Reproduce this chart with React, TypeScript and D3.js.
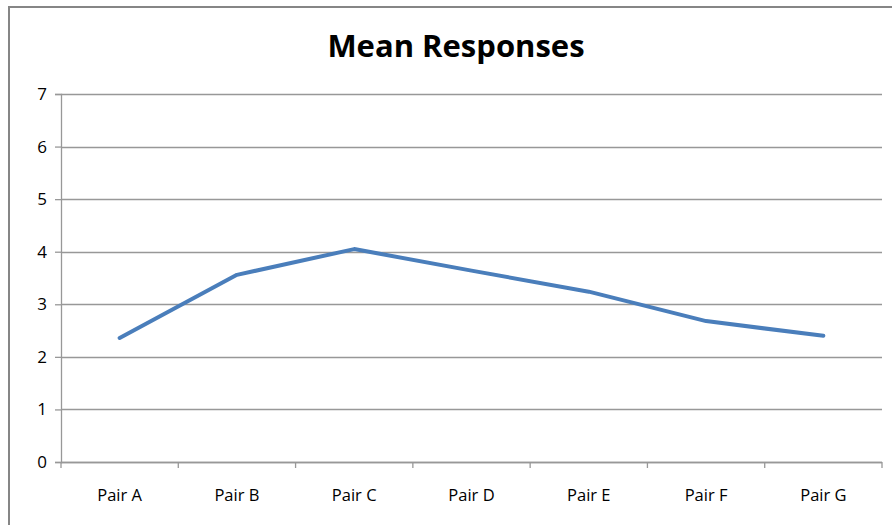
import React, { useEffect, useRef } from 'react';
import * as d3 from 'd3';

const categories = ['Pair A', 'Pair B', 'Pair C', 'Pair D', 'Pair E', 'Pair F', 'Pair G'];
const meanValues = [2.36, 3.56, 4.05, 3.64, 3.24, 2.68, 2.4];
const yTicks = [0, 1, 2, 3, 4, 5, 6, 7];

const App: React.FC = () => {
  const svgRef = useRef<SVGSVGElement>(null);

  useEffect(() => {
    if (!svgRef.current) return;
    const svg = d3.select(svgRef.current);
    svg.selectAll('*').remove();

    const width = 892;
    const height = 525;
    const margin = { top: 94, right: 10, bottom: 63, left: 61 };
    const innerW = width - margin.left - margin.right;
    const innerH = height - margin.top - margin.bottom;
    const font = "'Open Sans', 'Liberation Sans', sans-serif";

    // chart frame (right and bottom edges fall outside the picture)
    svg.append('rect')
      .attr('x', 9)
      .attr('y', 7)
      .attr('width', 900)
      .attr('height', 540)
      .attr('fill', '#fff')
      .attr('stroke', '#868686')
      .attr('stroke-width', 2);

    svg.append('text')
      .attr('x', 456)
      .attr('y', 57)
      .attr('text-anchor', 'middle')
      .style('font-family', font)
      .style('font-size', '31px')
      .style('font-weight', 'bold')
      .style('fill', '#000')
      .text('Mean Responses');

    const g = svg.append('g')
      .attr('transform', `translate(${margin.left},${margin.top})`);

    const x = d3.scaleBand<string>().domain(categories).range([0, innerW]).padding(0);
    const y = d3.scaleLinear().domain([0, 7]).range([innerH, 0]);

    // gridlines
    g.append('g')
      .selectAll('line')
      .data(yTicks)
      .enter()
      .append('line')
      .attr('x1', 0)
      .attr('x2', innerW)
      .attr('y1', d => Math.round(y(d)) + 0.5)
      .attr('y2', d => Math.round(y(d)) + 0.5)
      .attr('stroke', '#989898')
      .attr('stroke-width', 1.3);

    // y axis
    const yAxis = g.append('g')
      .call(d3.axisLeft(y).tickValues(yTicks).tickSize(6).tickPadding(8).tickFormat(d3.format('d')));
    yAxis.select('.domain').attr('stroke', '#989898').attr('stroke-width', 1.3);
    yAxis.selectAll('.tick line').attr('stroke', '#989898').attr('stroke-width', 1.3);
    yAxis.selectAll('.tick text')
      .style('font-family', font)
      .style('font-size', '17px')
      .style('fill', '#000');

    // x axis: ticks between categories
    const xAxis = g.append('g').attr('transform', `translate(0,${innerH})`);
    xAxis.append('line')
      .attr('x1', 0)
      .attr('x2', innerW)
      .attr('y1', 0.5)
      .attr('y2', 0.5)
      .attr('stroke', '#989898')
      .attr('stroke-width', 1.3);
    const boundaries = categories.map(c => x(c) as number).concat([innerW]);
    xAxis.selectAll('.xtick')
      .data(boundaries)
      .enter()
      .append('line')
      .attr('x1', d => d)
      .attr('x2', d => d)
      .attr('y1', 0)
      .attr('y2', 6)
      .attr('stroke', '#989898')
      .attr('stroke-width', 1.3);
    xAxis.selectAll('.xlabel')
      .data(categories)
      .enter()
      .append('text')
      .attr('x', d => (x(d) as number) + x.bandwidth() / 2)
      .attr('y', 39)
      .attr('text-anchor', 'middle')
      .style('font-family', font)
      .style('font-size', '16.5px')
      .style('fill', '#000')
      .text(d => d);

    const line = d3.line<number>()
      .x((_, i) => (x(categories[i]) as number) + x.bandwidth() / 2)
      .y(d => y(d));

    g.append('path')
      .datum(meanValues)
      .attr('d', line)
      .attr('fill', 'none')
      .attr('stroke', '#4a7ebb')
      .attr('stroke-width', 4)
      .attr('stroke-linecap', 'round')
      .attr('stroke-linejoin', 'round');
  }, []);

  return (
    <svg
      ref={svgRef}
      width={892}
      height={525}
      style={{ position: 'absolute', left: 0, top: 0, background: '#fff' }}
    />
  );
};

export default App;
